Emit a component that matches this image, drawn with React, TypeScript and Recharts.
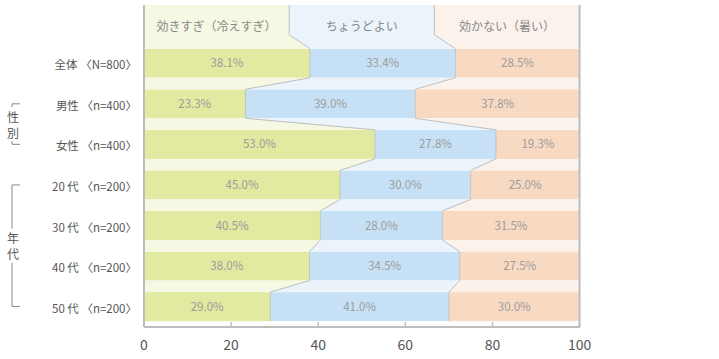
import { Bar, BarChart, LabelList, XAxis, YAxis } from "recharts";

const categories = [
  "全体 〈N=800〉",
  "男性 〈n=400〉",
  "女性 〈n=400〉",
  "20 代 〈n=200〉",
  "30 代 〈n=200〉",
  "40 代 〈n=200〉",
  "50 代 〈n=200〉",
];
const tooCold = [38.1, 23.3, 53.0, 45.0, 40.5, 38.0, 29.0];
const justRight = [33.4, 39.0, 27.8, 30.0, 28.0, 34.5, 41.0];
const tooHot = [28.5, 37.8, 19.3, 25.0, 31.5, 27.5, 30.0];
const seriesNames = ["効きすぎ（冷えすぎ）", "ちょうどよい", "効かない（暑い）"];
const xTicks = [0, 20, 40, 60, 80, 100];
const groups = [
  { label: "性別", from: 1, to: 2 },
  { label: "年代", from: 3, to: 6 },
];

const rows = categories.map((name, i) => ({
  name,
  cold: tooCold[i],
  just: justRight[i],
  hot: tooHot[i],
}));

const FONT = "'Noto Sans CJK JP', 'Noto Sans', sans-serif";
const BAR = ["#e2e9a0", "#c6e1f5", "#f8d9c2"];
const PALE = ["#f5f8e2", "#ebf3fb", "#fcf2ec"];
const LINE = "#b0b0b0";
const FRAME = "#bdbdbd";
const GAP = 5.75; // バー上下の余白(px)
const HEADER_TOP = 5;
const HEADER_SLANT = 14;

function pts(list: number[][]) {
  return list.map((p) => p.join(",")).join(" ");
}

function plainShape(color: string) {
  return (p: any) => (
    <rect x={p.x} y={p.y} width={p.width} height={p.height} fill={color} />
  );
}

// 最後の系列の形状で、区切り線・ヘッダー・枠などもまとめて描く
function HotShape(p: any) {
  const { x, y, width, height, index, payload } = p;
  const k = width / payload.hot;
  const left = x - (payload.cold + payload.just) * k;
  const right = left + 100 * k;
  const b1 = left + payload.cold * k;
  const b2 = b1 + payload.just * k;
  const step = height + 2 * GAP;
  const yb = y + height;
  const out: any[] = [];

  out.push(<rect key="r" x={x} y={y} width={width} height={height} fill={BAR[2]} />);

  const next = rows[index + 1];
  if (next) {
    const yt = y + step;
    const n1 = left + next.cold * k;
    const n2 = n1 + next.just * k;
    out.push(
      <polygon key="g0" points={pts([[left, yb], [b1, yb], [n1, yt], [left, yt]])} fill={PALE[0]} />,
      <polygon key="g1" points={pts([[b1, yb], [b2, yb], [n2, yt], [n1, yt]])} fill={PALE[1]} />,
      <polygon key="g2" points={pts([[b2, yb], [right, yb], [right, yt], [n2, yt]])} fill={PALE[2]} />,
      <line key="l1" x1={b1} y1={yb} x2={n1} y2={yt} stroke={LINE} strokeWidth={0.8} />,
      <line key="l2" x1={b2} y1={yb} x2={n2} y2={yt} stroke={LINE} strokeWidth={0.8} />
    );
  }
  out.push(
    <line key="v1" x1={b1} y1={y} x2={b1} y2={yb} stroke={LINE} strokeWidth={0.6} />,
    <line key="v2" x1={b2} y1={y} x2={b2} y2={yb} stroke={LINE} strokeWidth={0.6} />
  );

  if (index === 0) {
    const h1 = left + (100 / 3) * k;
    const h2 = left + (200 / 3) * k;
    const hm = y - HEADER_SLANT;
    out.push(
      <polygon key="h0" points={pts([[left, HEADER_TOP], [h1, HEADER_TOP], [h1, hm], [b1, y], [left, y]])} fill={PALE[0]} />,
      <polygon key="h1" points={pts([[h1, HEADER_TOP], [h2, HEADER_TOP], [h2, hm], [b2, y], [b1, y], [h1, hm]])} fill={PALE[1]} />,
      <polygon key="h2" points={pts([[h2, HEADER_TOP], [right, HEADER_TOP], [right, y], [b2, y], [h2, hm]])} fill={PALE[2]} />,
      <polyline key="hl1" points={pts([[h1, HEADER_TOP], [h1, hm], [b1, y]])} fill="none" stroke={LINE} strokeWidth={0.8} />,
      <polyline key="hl2" points={pts([[h2, HEADER_TOP], [h2, hm], [b2, y]])} fill="none" stroke={LINE} strokeWidth={0.8} />
    );
    seriesNames.forEach((s, i) =>
      out.push(
        <text
          key={"ht" + i}
          x={left + (i + 0.5) * (100 / 3) * k}
          y={HEADER_TOP + 20}
          textAnchor="middle"
          dominantBaseline="central"
          fontSize={12}
          fill="#888"
          fontFamily={FONT}
        >
          {s}
        </text>
      )
    );
  }

  // 性別・年代の括弧
  groups.forEach((g) => {
    if (g.from !== index) return;
    const top = y + height / 2;
    const bottom = top + (g.to - g.from) * step;
    const mid = (top + bottom) / 2;
    const bx = 12;
    out.push(
      <polyline key={g.label + "a"} points={pts([[bx + 8, top], [bx, top], [bx, mid - 17]])} fill="none" stroke="#888" strokeWidth={1} />,
      <polyline key={g.label + "b"} points={pts([[bx, mid + 17], [bx, bottom], [bx + 8, bottom]])} fill="none" stroke="#888" strokeWidth={1} />
    );
    g.label.split("").forEach((ch, j) =>
      out.push(
        <text
          key={g.label + j}
          x={bx + 1}
          y={mid - 8 + j * 16}
          textAnchor="middle"
          dominantBaseline="central"
          fontSize={12}
          fill="#555"
          fontFamily={FONT}
        >
          {ch}
        </text>
      )
    );
  });

  if (index === rows.length - 1) {
    const bottom = yb + GAP;
    out.push(
      <line key="fl" x1={left} y1={HEADER_TOP} x2={left} y2={bottom} stroke={FRAME} strokeWidth={2} />,
      <line key="fr" x1={right} y1={HEADER_TOP} x2={right} y2={bottom} stroke={FRAME} strokeWidth={2} />
    );
  }

  return <g>{out}</g>;
}

function XTick(p: any) {
  const { x, y, payload } = p;
  return (
    <g>
      <line x1={x} y1={y - 5} x2={x} y2={y} stroke={FRAME} strokeWidth={1.5} />
      <text x={x} y={y + 23} textAnchor="middle" fontSize={14} fill="#555" fontFamily={FONT}>
        {payload.value}
      </text>
    </g>
  );
}

function YTick(p: any) {
  const { x, y, payload } = p;
  return (
    <text x={x} y={y + 1} textAnchor="end" dominantBaseline="central" fontSize={11.5} fill="#555" fontFamily={FONT}>
      {payload.value}
    </text>
  );
}

const pct = (v: any) => `${Number(v).toFixed(1)}%`;
const labelStyle = { fontSize: 11.5, fill: "#9c9c9c", fontFamily: FONT };

export default function App() {
  return (
    <div style={{ position: "absolute", left: 0, top: 0, fontFamily: FONT }}>
      <BarChart
        width={719}
        height={359}
        data={rows}
        layout="vertical"
        margin={{ top: 43, right: 139, bottom: 0, left: 0 }}
        barCategoryGap={GAP}
      >
        <XAxis
          type="number"
          domain={[0, 100]}
          ticks={xTicks}
          height={32}
          tickSize={0}
          tickMargin={0}
          tickLine={false}
          axisLine={{ stroke: FRAME, strokeWidth: 2 }}
          tick={<XTick />}
        />
        <YAxis
          type="category"
          dataKey="name"
          width={144}
          tickSize={0}
          tickMargin={7}
          tickLine={false}
          axisLine={false}
          tick={<YTick />}
        />
        <Bar dataKey="cold" stackId="a" isAnimationActive={false} shape={plainShape(BAR[0])}>
          <LabelList dataKey="cold" position="center" formatter={pct} style={labelStyle} />
        </Bar>
        <Bar dataKey="just" stackId="a" isAnimationActive={false} shape={plainShape(BAR[1])}>
          <LabelList dataKey="just" position="center" formatter={pct} style={labelStyle} />
        </Bar>
        <Bar dataKey="hot" stackId="a" isAnimationActive={false} shape={HotShape}>
          <LabelList dataKey="hot" position="center" formatter={pct} style={labelStyle} />
        </Bar>
      </BarChart>
    </div>
  );
}
